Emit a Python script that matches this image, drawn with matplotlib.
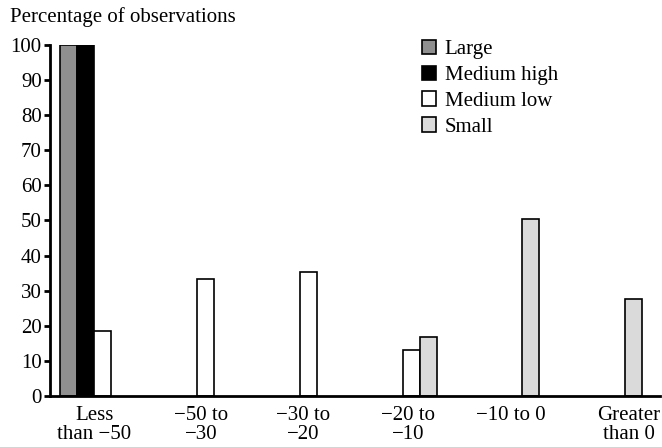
import numpy as np
import matplotlib.pyplot as plt

plt.rcParams['font.family'] = ['Liberation Serif', 'DejaVu Serif']

categories = ["Less\nthan \u221250", "\u221250 to\n\u221230", "\u221230 to\n\u221220",
              "\u221220 to\n\u221210", "\u221210 to 0", "Greater\nthan 0"]
series = ["Large", "Medium high", "Medium low", "Small"]
large = [100, 0, 0, 0, 0, 0]
medium_high = [100, 0, 0, 0, 0, 0]
medium_low = [18.5, 33.2, 35.2, 13.0, 0, 0]
small = [0, 0, 0, 16.7, 50.4, 27.5]

valores = [large, medium_high, medium_low, small]
cores = ["#8f8f8f", "#000000", "#ffffff", "#dadada"]

fig = plt.figure(figsize=(6.62, 4.47), dpi=100)
ax = fig.add_axes([0.0755, 0.114, 0.921, 0.786])

x = np.arange(len(categories))
w = 0.165
for i, (nome, v, c) in enumerate(zip(series, valores, cores)):
    pos = x + (i - 1.5) * w
    vv = np.array(v, dtype=float)
    mask = vv > 0
    ax.bar(pos[mask], vv[mask], width=w, color=c, edgecolor="black", linewidth=1.2, label=nome)

ax.set_xlim(-0.43, 5.5)
ax.set_ylim(0, 100)
ax.set_yticks(range(0, 101, 10))
ax.tick_params(axis="y", direction="out", length=4, width=2, labelsize=15, pad=2)
label_pos = [0, 1.04, 2.03, 3.05, 4.05, 5.2]
ax.set_xticks(label_pos)
ax.set_xticklabels(categories, fontsize=15, linespacing=1.0)
ax.tick_params(axis="x", length=0, pad=7)

for s in ["top", "right"]:
    ax.spines[s].set_visible(False)
ax.spines["left"].set_linewidth(2)
ax.spines["bottom"].set_linewidth(2)

fig.text(0.015, 0.962, "Percentage of observations", fontsize=15, va="center", ha="left")

leg = ax.legend(loc="upper left", bbox_to_anchor=(0.596, 1.038), frameon=False, fontsize=15,
                handlelength=0.7, handleheight=0.7, handletextpad=0.4, labelspacing=0.3,
                borderaxespad=0)

fig.savefig("out.png", dpi=100)
